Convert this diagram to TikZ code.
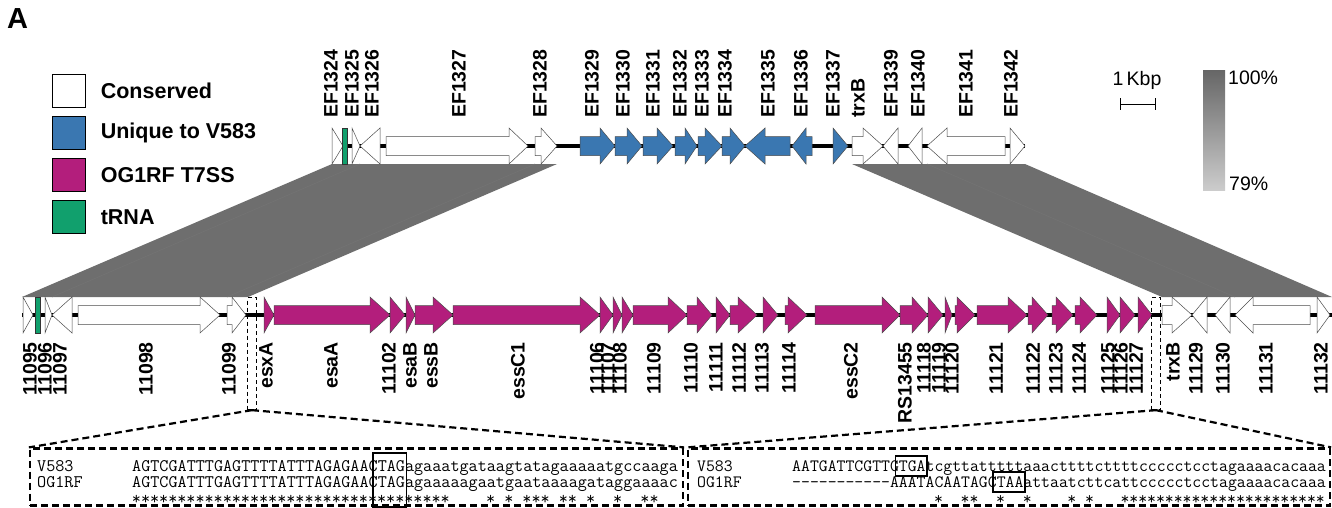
\documentclass[tikz,border=0pt]{standalone}
\usepackage{fontspec}
\setsansfont{Liberation Sans}
\usetikzlibrary{positioning}

\definecolor{uniqblue}{HTML}{3A77B1}
\definecolor{tssmag}{HTML}{B31E7C}
\definecolor{trnagreen}{HTML}{11A06D}
\definecolor{bandgray}{HTML}{6E6E6E}

\tikzset{
  gene/.style={draw=black!70,line width=0.5pt},
  toplab/.style={rotate=90,anchor=west,inner sep=0pt,font=\sffamily\bfseries\fontsize{19.5}{20}\selectfont},
  botlab/.style={rotate=90,anchor=east,inner sep=0pt,font=\sffamily\bfseries\fontsize{19.5}{20}\selectfont},
  legbox/.style={draw=black,line width=1.2pt,minimum width=33pt,minimum height=33pt,inner sep=0pt},
  legtext/.style={anchor=west,inner sep=0pt,font=\sffamily\bfseries\fontsize{21.5}{24}\selectfont},
  plain/.style={inner sep=0pt,font=\sffamily\fontsize{19.5}{22}\selectfont},
  seqL/.style={inner sep=0pt,font=\ttfamily\fontsize{17.66}{18}\selectfont},
  seqR/.style={inner sep=0pt,font=\ttfamily\fontsize{17.27}{18}\selectfont},
  zoombox/.style={draw,dashed,line width=2.2pt,dash pattern=on 7pt off 4pt,inner sep=0pt},
  smallbox/.style={draw,line width=1.3pt,dash pattern=on 4pt off 3pt,inner sep=0pt,minimum width=9pt,minimum height=112pt},
  zoomline/.style={line width=2.2pt,dash pattern=on 7pt off 4pt},
  stopbox/.style={draw,line width=1.6pt},
}

% start, head base, tip, centre line, fill
\newcommand{\drawgene}[5]{%
  \filldraw[gene,fill=#5] (#1,#4-9.5) -- (#2,#4-9.5) -- (#2,#4-18) -- (#3,#4)
    -- (#2,#4+18) -- (#2,#4+9.5) -- (#1,#4+9.5) -- cycle;}
\newcommand{\hy}{\mbox{-}}
\def\cwL{9.08}
\def\cwR{8.88}

\begin{document}
\begin{tikzpicture}[x=1pt,y=-1pt]
\useasboundingbox (0,0) rectangle (1332,507);
\clip (0,0) rectangle (1332,507);

\node[anchor=north west,inner sep=0pt,font=\sffamily\bfseries\fontsize{29}{30}\selectfont] (panel) at (7,8) {A};

% legend
\foreach \y/\c/\t in {91/white/Conserved,133/uniqblue/Unique to V583,175/tssmag/OG1RF T7SS,217/trnagreen/tRNA}{
  \node[legbox,fill=\c] (lb-\y) at (69,\y) {};
  \node[legtext,right=14.5pt of lb-\y] (lt-\y) {\t};
}

% similarity bands
\fill[bandgray] (332,164) -- (557,164) -- (248,297) -- (22,297) -- cycle;
\fill[bandgray] (852,164) -- (1025,164) -- (1332,297) -- (1162,297) -- cycle;
\draw[black!55,line width=0.6pt] (360,164) -- (52,297);
\draw[black!55,line width=0.6pt] (535,164) -- (227,297);
\draw[black!55,line width=0.6pt] (927,164) -- (1235,297);

% V583 track
\draw[line width=4pt] (332,146) -- (1025,146);
\drawgene{332}{332}{343}{146}{white}
\filldraw[fill=trnagreen,draw=black!80,line width=0.5pt] (342,128) rectangle (347,164);
\drawgene{352}{352}{360}{146}{white}
\drawgene{380}{380}{360}{146}{white}
\drawgene{386}{509}{528}{146}{white}
\drawgene{535}{541}{557}{146}{white}
\drawgene{580}{600}{615}{146}{uniqblue}
\drawgene{615}{627}{642}{146}{uniqblue}
\drawgene{643}{657}{673}{146}{uniqblue}
\drawgene{675}{685}{697}{146}{uniqblue}
\drawgene{698}{705}{722}{146}{uniqblue}
\drawgene{722}{730}{745}{146}{uniqblue}
\drawgene{790}{765}{745}{146}{uniqblue}
\drawgene{812}{806}{792}{146}{uniqblue}
\drawgene{833}{833}{848}{146}{uniqblue}
\drawgene{852}{863}{883}{146}{white}
\drawgene{898}{898}{883}{146}{white}
\drawgene{922}{922}{908}{146}{white}
\drawgene{1005}{947}{927}{146}{white}
\drawgene{1010}{1010}{1025}{146}{white}

\foreach \x/\t in {331/EF1324,352/EF1325,372/EF1326,459/EF1327,540/EF1328,592/EF1329,
    623/EF1330,653/EF1331,680/EF1332,702/EF1333,725/EF1334,768/EF1335,801/EF1336,
    833/EF1337,858/trxB,891/EF1339,918/EF1340,966/EF1341,1011/EF1342}
  \node[toplab] (top-\t) at (\x,118) {\t};

% OG1RF track
\draw[line width=4pt] (22,315) -- (1332,315);
\drawgene{23}{23}{33}{315}{white}
\filldraw[fill=trnagreen,draw=black!80,line width=0.5pt] (35,297) rectangle (40,333);
\drawgene{45}{45}{52}{315}{white}
\drawgene{72}{72}{52}{315}{white}
\drawgene{78}{200}{220}{315}{white}
\drawgene{227}{232}{246}{315}{white}
\drawgene{264}{264}{274}{315}{tssmag}
\drawgene{274}{370}{390}{315}{tssmag}
\drawgene{390}{390}{405}{315}{tssmag}
\drawgene{406}{406}{415}{315}{tssmag}
\drawgene{415}{433}{453}{315}{tssmag}
\drawgene{453}{580}{600}{315}{tssmag}
\drawgene{600}{600}{613}{315}{tssmag}
\drawgene{613}{613}{622}{315}{tssmag}
\drawgene{622}{622}{633}{315}{tssmag}
\drawgene{633}{668}{687}{315}{tssmag}
\drawgene{687}{697}{712}{315}{tssmag}
\drawgene{716}{716}{730}{315}{tssmag}
\drawgene{730}{738}{757}{315}{tssmag}
\drawgene{763}{763}{778}{315}{tssmag}
\drawgene{785}{788}{807}{315}{tssmag}
\drawgene{815}{882}{900}{315}{tssmag}
\drawgene{900}{912}{928}{315}{tssmag}
\drawgene{928}{928}{943}{315}{tssmag}
\drawgene{945}{945}{952}{315}{tssmag}
\drawgene{955}{957}{975}{315}{tssmag}
\drawgene{977}{1008}{1027}{315}{tssmag}
\drawgene{1028}{1032}{1048}{315}{tssmag}
\drawgene{1052}{1056}{1073}{315}{tssmag}
\drawgene{1075}{1080}{1097}{315}{tssmag}
\drawgene{1107}{1107}{1120}{315}{tssmag}
\drawgene{1120}{1120}{1135}{315}{tssmag}
\drawgene{1138}{1138}{1152}{315}{tssmag}
\drawgene{1162}{1172}{1192}{315}{white}
\drawgene{1207}{1207}{1192}{315}{white}
\drawgene{1230}{1230}{1215}{315}{white}
\drawgene{1310}{1253}{1235}{315}{white}
\drawgene{1317}{1317}{1330}{315}{white}

\foreach \x/\t in {30/11095,45/11096,60/11097,146/11098,229/11099,266/esxA,331/esaA,
    389/11102,410/esaB,431/essB,518/essC1,597/11106,608/11107,620/11108,654/11109,
    691/11110,716/11111,739/11112,762/11113,789/11114,851/essC2,905/RS13455,924/11118,
    939/11119,952/11120,996/11121,1033/11122,1056/11123,1079/11124,1108/11125,
    1121/11126,1136/11127,1173/trxB,1196/11129,1223/11130,1266/11131,1321/11132}
  \node[botlab] (bot-\t) at (\x,342) {\t};

% scale bar and identity key
\node[plain] (kbp) at (1137,80) {1\,Kbp};
\draw[line width=0.8pt] (1120,104) -- (1155,104);
\draw[line width=0.8pt] (1120,98) -- (1120,110);
\draw[line width=0.8pt] (1155,98) -- (1155,110);
\shade[top color=black!60,bottom color=black!20] (1203,70) rectangle (1225,190);
\node[plain,anchor=west] (hi) at (1228,78) {100\%};
\node[plain,anchor=west] (lo) at (1229,184) {79\%};

% zoomed junctions
\node[smallbox] (zl) at (252,353.5) {};
\node[smallbox] (zr) at (1156,353.5) {};
\node[zoombox,minimum width=653pt,minimum height=57pt] (bl) at (356.5,477) {};
\node[zoombox,minimum width=642pt,minimum height=57pt] (br) at (1009,477) {};
\draw[zoomline] (zl.south) -- (bl.north west);
\draw[zoomline] (zl.south) -- (bl.north east);
\draw[zoomline] (zr.south) -- (br.north west);
\draw[zoomline] (zr.south) -- (br.north east);

\node[seqL,anchor=base west] (vl) at (37,471) {V583};
\node[seqL,anchor=base west] (ol) at (37,487) {OG1RF};
\node[seqL,anchor=base west] (vls) at (132,471) {AGTCGATTTGAGTTTTATTTAGAGAACTAGagaaatgataagtatagaaaaatgccaaga};
\node[seqL,anchor=base west] (ols) at (132,487) {AGTCGATTTGAGTTTTATTTAGAGAACTAGagaaaaagaatgaataaaagataggaaaac};
\foreach \i in {0,...,34,39,41,43,44,45,47,48,50,53,56,57}
  \node[seqL,anchor=base] (sl-\i) at ({132+(\i+0.5)*\cwL},504) {*};
\draw[stopbox] ({132+27*\cwL-4},453) rectangle ({132+30*\cwL+2},507);

\node[seqR,anchor=base west] (vr) at (697,471) {V583};
\node[seqR,anchor=base west] (or) at (697,487) {OG1RF};
\node[seqR,anchor=base west] (vrs) at (792,471) {AATGATTCGTTGTGAtcgttatttttaaacttttcttttccccctcctagaaaacacaaa};
\node[seqR,anchor=base west] (ors) at (792,487) {\hy\hy\hy\hy\hy\hy\hy\hy\hy\hy\hy AAATACAATAGCTAAattaatcttcattccccctcctagaaaacacaaa};
\foreach \i in {16,19,20,23,26,31,33,37,38,...,59}
  \node[seqR,anchor=base] (sr-\i) at ({792+(\i+0.5)*\cwR},504) {*};
\draw[stopbox] ({792+12*\cwR-3},456) rectangle ({792+15*\cwR+2},476);
\draw[stopbox] ({792+23*\cwR-3},472) rectangle ({792+26*\cwR+2},492);
\end{tikzpicture}
\end{document}
